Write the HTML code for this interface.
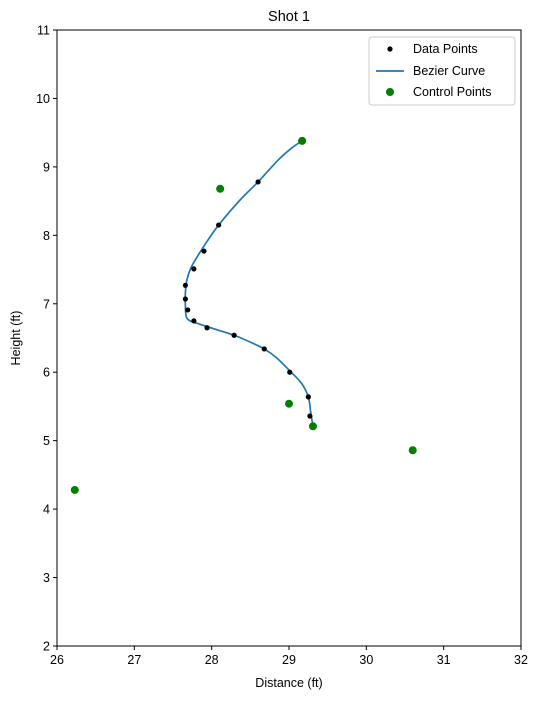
<!DOCTYPE html>
<html><head><meta charset="utf-8"><style>
body{margin:0;background:#fff}
svg text{font-family:"Liberation Sans","DejaVu Sans",sans-serif;fill:#000}
</style></head><body>
<svg id="c" width="540" height="699" xmlns="http://www.w3.org/2000/svg"></svg>
<script>
const xTicks=[26,27,28,29,30,31,32];
const yTicks=[2,3,4,5,6,7,8,9,10,11];
const dataX=[28.60,28.09,27.90,27.77,27.66,27.66,27.69,27.77,27.94,28.29,28.68,29.01,29.25,29.27];
const dataY=[8.78,8.15,7.77,7.51,7.27,7.07,6.91,6.75,6.65,6.54,6.34,6.00,5.64,5.36];
const ctrlX=[26.23,29.17,28.11,29.00,29.31,30.60];
const ctrlY=[4.28,9.38,8.68,5.54,5.21,4.86];
const curveX=[29.31,29.28,29.25,29.16,29.01,28.84,28.68,28.50,28.29,28.04,27.85,27.72,27.67,27.66,27.66,27.68,27.73,27.81,27.91,28.09,28.37,28.60,28.86,29.04,29.17];
const curveY=[5.21,5.42,5.64,5.84,6.02,6.21,6.34,6.44,6.54,6.63,6.70,6.75,6.82,6.98,7.16,7.35,7.52,7.68,7.86,8.15,8.52,8.78,9.10,9.28,9.38];
const L=57,R=521,T=30,B=646;
const sx=v=>L+(v-26)/6*(R-L), sy=v=>B-(v-2)/9*(B-T);
const svg=document.getElementById('c');
function mk(tag,attrs,parent){const e=document.createElementNS('http://www.w3.org/2000/svg',tag);for(const k in attrs)e.setAttribute(k,attrs[k]);(parent||svg).appendChild(e);return e;}
let t=mk('text',{x:(L+R)/2,y:21,'text-anchor':'middle','font-size':14.5});t.textContent='Shot 1';


xTicks.forEach(v=>{const x=sx(v);
 const l=mk('line',{x1:x,x2:x,y1:B,y2:B+4,stroke:'#000'});
 
 
 const tx=mk('text',{x:x,y:B+18,'text-anchor':'middle','font-size':12.5});tx.textContent=v;
 
 });
yTicks.forEach(v=>{const y=sy(v);
 const l=mk('line',{x1:L-4,x2:L,y1:y,y2:y,stroke:'#000'});
 
 
 const tx=mk('text',{x:L-7,y:y+4.5,'text-anchor':'end','font-size':12.5});tx.textContent=v;
 
 });
t=mk('text',{x:(L+R)/2,y:687,'text-anchor':'middle','font-size':12.5});t.textContent='Distance (ft)';


t=mk('text',{x:20,y:(T+B)/2,'text-anchor':'middle','font-size':12.5,transform:`rotate(-90 20 ${(T+B)/2})`});t.textContent='Height (ft)';


// smooth catmull-rom path through curve samples
const pts=curveX.map((x,i)=>[sx(x),sy(curveY[i])]);
let d='M'+pts[0][0]+','+pts[0][1];
for(let i=0;i<pts.length-1;i++){
 const p0=pts[Math.max(i-1,0)],p1=pts[i],p2=pts[i+1],p3=pts[Math.min(i+2,pts.length-1)];
 const c1=[p1[0]+(p2[0]-p0[0])/6,p1[1]+(p2[1]-p0[1])/6];
 const c2=[p2[0]-(p3[0]-p1[0])/6,p2[1]-(p3[1]-p1[1])/6];
 d+=` C${c1[0]},${c1[1]} ${c2[0]},${c2[1]} ${p2[0]},${p2[1]}`;
}
let p=mk('path',{d:d,fill:'none',stroke:'#1f77b4','stroke-width':1.7});


dataX.forEach((x,i)=>{const c=mk('circle',{cx:sx(x),cy:sy(dataY[i]),r:2.6,fill:'#000'});
 
 });
ctrlX.forEach((x,i)=>{const c=mk('circle',{cx:sx(x),cy:sy(ctrlY[i]),r:4,fill:'#008000'});
 
 });
let f=mk('rect',{x:L,y:T,width:R-L,height:B-T,fill:'none',stroke:'#000','stroke-width':1});


const g=mk('g',{});


mk('rect',{x:369,y:37,width:146,height:68,rx:3,fill:'#fff',stroke:'#ccc'},g);
mk('circle',{cx:390,cy:49,r:2.6,fill:'#000'},g);
mk('line',{x1:376,x2:404,y1:71,y2:71,stroke:'#1f77b4','stroke-width':1.7},g);
mk('circle',{cx:390,cy:92,r:4,fill:'#008000'},g);
[['Data Points',53],['Bezier Curve',75],['Control Points',96]].forEach(([s,y])=>{const e=mk('text',{x:413,y:y,'font-size':12.5},g);e.textContent=s;
 
 });
</script>
</body></html>
